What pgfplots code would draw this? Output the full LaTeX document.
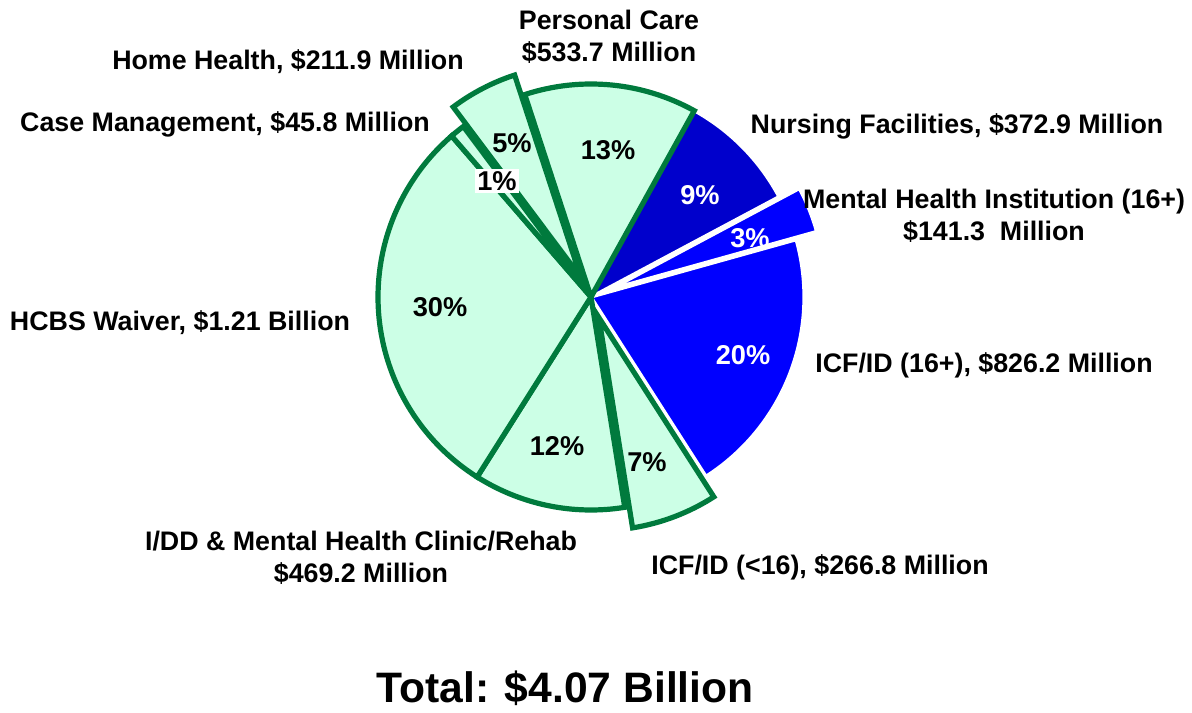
\documentclass[border=0pt]{standalone}
\usepackage{pgfplots}
\usepackage{pgfplotstable}
\usepackage{fontspec}
\setmainfont{Liberation Sans}
\pgfplotsset{compat=1.18}

\definecolor{ltgreen}{RGB}{204,255,230}
\definecolor{dkgreen}{RGB}{0,122,61}
\definecolor{nfblue}{RGB}{0,0,204}
\definecolor{icfblue}{RGB}{0,0,255}

% spending in $ million, clockwise from the Nursing Facilities slice
% style: 0 dark blue, 1 blue, 2 light green
\pgfplotstableread[col sep=comma]{
name,value,explode,style
NF,372.9,0,0
MHI,141.3,1,1
ICF16,826.2,0,1
ICFlt16,266.8,1,2
IDD,469.2,0,2
HCBS,1210.0,0,2
CM,45.8,0,2
HH,211.9,1,2
PC,533.7,0,2
}\slices

\newcommand{\lbl}{\fontsize{13.4}{16}\selectfont\bfseries}
\newcommand{\pct}{\fontsize{13.6}{16}\selectfont\bfseries}

\begin{document}
\begin{tikzpicture}
\begin{axis}[
  scale only axis, width=596pt, height=353pt,
  xmin=0, xmax=1192, ymin=0, ymax=706,
  hide axis, clip=false]
\path (axis cs:0,0) (axis cs:1192,706);
\pgfplotsextra{
  \gdef\total{0}
  \foreach \i in {0,...,8}{
    \pgfplotstablegetelem{\i}{value}\of\slices
    \pgfmathsetmacro\t{\total+\pgfplotsretval}
    \xdef\total{\t}
  }
  \gdef\cum{0}
  \foreach \i in {0,...,8}{
    \pgfplotstablegetelem{\i}{value}\of\slices \let\v\pgfplotsretval
    \pgfplotstablegetelem{\i}{explode}\of\slices \let\ex\pgfplotsretval
    \pgfplotstablegetelem{\i}{style}\of\slices \let\st\pgfplotsretval
    \pgfmathsetmacro\astart{61-360*(\cum/\total)}
    \pgfmathsetmacro\aend{61-360*((\cum+\v)/\total)}
    \pgfmathsetmacro\amid{(\astart+\aend)/2}
    \pgfmathsetmacro\off{\ex*11}
    \ifcase\st
      \def\fc{nfblue}\def\dc{white}\def\lw{1.6pt}
    \or
      \def\fc{icfblue}\def\dc{white}\def\lw{1.6pt}
    \else
      \def\fc{ltgreen}\def\dc{dkgreen}\def\lw{2.6pt}
    \fi
    \filldraw[fill=\fc, draw=\dc, line width=\lw, line join=miter]
      (axis cs:591,409) ++(\amid:\off pt) -- ++(\astart:106.5pt)
      arc[start angle=\astart, end angle=\aend, radius=106.5pt] -- cycle;
    \pgfmathsetmacro\t{\cum+\v}
    \xdef\cum{\t}
  }
}
% percentages
\node[white] at (axis cs:700,511) {\pct 9\%};
\node[white] at (axis cs:750,468) {\pct 3\%};
\node[white] at (axis cs:743,351) {\pct 20\%};
\node at (axis cs:647,244) {\pct 7\%};
\node at (axis cs:557,260) {\pct 12\%};
\node at (axis cs:440,399) {\pct 30\%};
\node[fill=white, inner sep=1pt] at (axis cs:497,525) {\pct 1\%};
\node at (axis cs:512,563) {\pct 5\%};
\node at (axis cs:608,556) {\pct 13\%};
% category labels
\node[font=\lbl, align=center] at (axis cs:609,669) {Personal Care\\\$533.7 Million};
\node[font=\lbl] at (axis cs:288,644) {Home Health, \$211.9 Million};
\node[font=\lbl] at (axis cs:225,582) {Case Management, \$45.8 Million};
\node[font=\lbl] at (axis cs:957,580) {Nursing Facilities, \$372.9 Million};
\node[font=\lbl, align=center] at (axis cs:994,490) {Mental Health Institution (16+)\\\$141.3\ \ Million};
\node[font=\lbl] at (axis cs:180,383) {HCBS Waiver, \$1.21 Billion};
\node[font=\lbl] at (axis cs:984,341) {ICF/ID (16+), \$826.2 Million};
\node[font=\lbl, align=center] at (axis cs:361,148) {I/DD \& Mental Health Clinic/Rehab\\\$469.2 Million};
\node[font=\lbl] at (axis cs:820,139) {ICF/ID (<16), \$266.8 Million};
\node at (axis cs:565,18) {\fontsize{21.3}{25}\selectfont\bfseries Total: \$4.07 Billion};
\end{axis}
\end{tikzpicture}
\end{document}
